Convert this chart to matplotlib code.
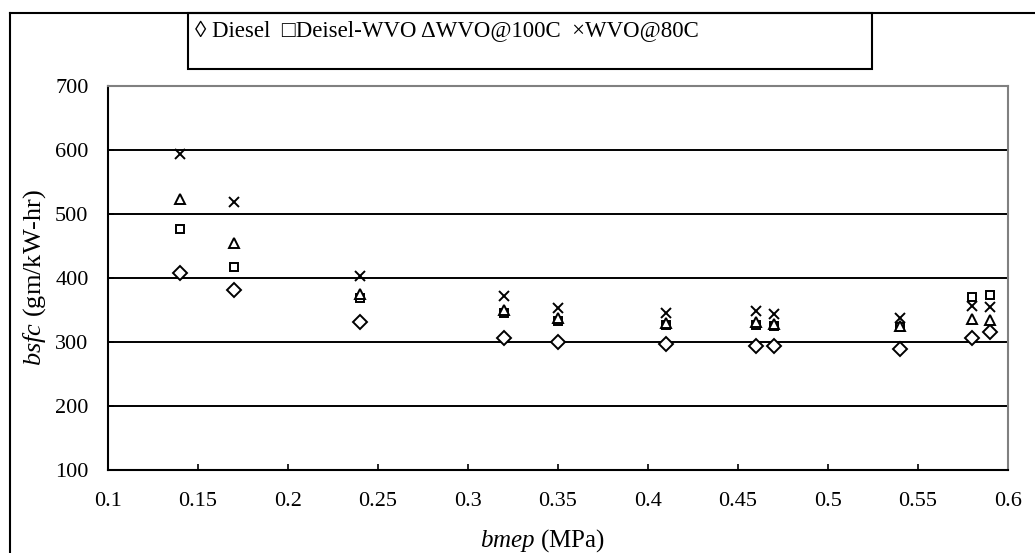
import matplotlib
matplotlib.use("Agg")
import matplotlib.pyplot as plt
from matplotlib.lines import Line2D
from matplotlib.patches import Rectangle

plt.rcParams['font.family'] = ['Liberation Serif', 'DejaVu Serif']
plt.rcParams['mathtext.fontset'] = 'custom'
plt.rcParams['mathtext.rm'] = 'Liberation Serif'
plt.rcParams['mathtext.it'] = 'Liberation Serif:italic'

bmep = [0.14, 0.17, 0.24, 0.32, 0.35, 0.41, 0.46, 0.47, 0.54, 0.58, 0.59]
diesel = [408, 381, 332, 306, 300, 297, 293, 293, 289, 306, 316]
diesel_wvo = [477, 417, 369, 345, 333, 327, 327, 325, 324, 371, 374]
wvo100 = [523, 455, 375, 350, 337, 329, 332, 328, 325, 336, 335]
wvo80 = [593, 519, 403, 372, 353, 345, 349, 344, 338, 357, 354]

legend_text = "\u25CA Diesel  \u25A1Deisel-WVO \u0394WVO@100C  \u00D7WVO@80C"
xticks = [0.1, 0.15, 0.2, 0.25, 0.3, 0.35, 0.4, 0.45, 0.5, 0.55, 0.6]
xticklabels = ["0.1", "0.15", "0.2", "0.25", "0.3", "0.35", "0.4", "0.45", "0.5", "0.55", "0.6"]
yticks = [100, 200, 300, 400, 500, 600, 700]

W, H = 1035, 553
fig = plt.figure(figsize=(W / 100, H / 100), dpi=100)
ax = fig.add_axes([108 / W, 1 - 470 / H, (1008 - 108) / W, (470 - 86) / H])

ax.set_xlim(0.1, 0.6)
ax.set_ylim(100, 700)
for y in yticks[1:-1]:
    ax.axhline(y, color='black', lw=1.4, zorder=1)

ax.plot(bmep, diesel, linestyle='none', marker='D', markersize=7,
        markerfacecolor='white', markeredgecolor='black', markeredgewidth=1.4, zorder=3)
ax.plot(bmep, diesel_wvo, linestyle='none', marker='s', markersize=6,
        markerfacecolor='white', markeredgecolor='black', markeredgewidth=1.4, zorder=3)
ax.plot(bmep, wvo100, linestyle='none', marker='^', markersize=7,
        markerfacecolor='white', markeredgecolor='black', markeredgewidth=1.4, zorder=4)
ax.plot(bmep, wvo80, linestyle='none', marker='x', markersize=6.5,
        markeredgecolor='black', markeredgewidth=1.4, zorder=5)

ax.set_xticks(xticks)
ax.set_xticklabels(xticklabels)
ax.set_yticks(yticks)
ax.tick_params(axis='both', labelsize=16, direction='in', length=4, width=1.2, colors='black')
ax.tick_params(axis='x', pad=16)
ax.tick_params(axis='y', pad=14)

ax.spines['left'].set_color('black')
ax.spines['bottom'].set_color('black')
ax.spines['left'].set_linewidth(1.5)
ax.spines['bottom'].set_linewidth(1.5)
ax.spines['top'].set_color('#808080')
ax.spines['right'].set_color('#808080')
ax.spines['top'].set_linewidth(1.5)
ax.spines['right'].set_linewidth(1.5)

fig.text(543 / W, 1 - 541 / H, r'$\mathit{bmep}$ (MPa)', ha='center', va='center', fontsize=18)
fig.text(35 / W, 1 - 277 / H, r'$\mathit{bsfc}$ (gm/kW-hr)', ha='center', va='center',
         fontsize=19, rotation=90)

# outer frame (left and top edges visible)
fig.add_artist(Line2D([10 / W, 10 / W], [0, 1 - 12.7 / H], transform=fig.transFigure,
                      color='black', lw=1.5))
fig.add_artist(Line2D([10 / W, 1], [1 - 12.7 / H, 1 - 12.7 / H], transform=fig.transFigure,
                      color='black', lw=1.5))

# legend box
fig.add_artist(Rectangle((188 / W, 1 - 69 / H), (872 - 188) / W, (69 - 12.7) / H,
                         transform=fig.transFigure, fill=False, edgecolor='black', lw=1.5))
fig.text(195 / W, 1 - 31 / H, legend_text, ha='left', va='center', fontsize=16.5,
         family=['Liberation Serif', 'DejaVu Serif', 'DejaVu Sans'])

fig.savefig('out.png', dpi=100)
